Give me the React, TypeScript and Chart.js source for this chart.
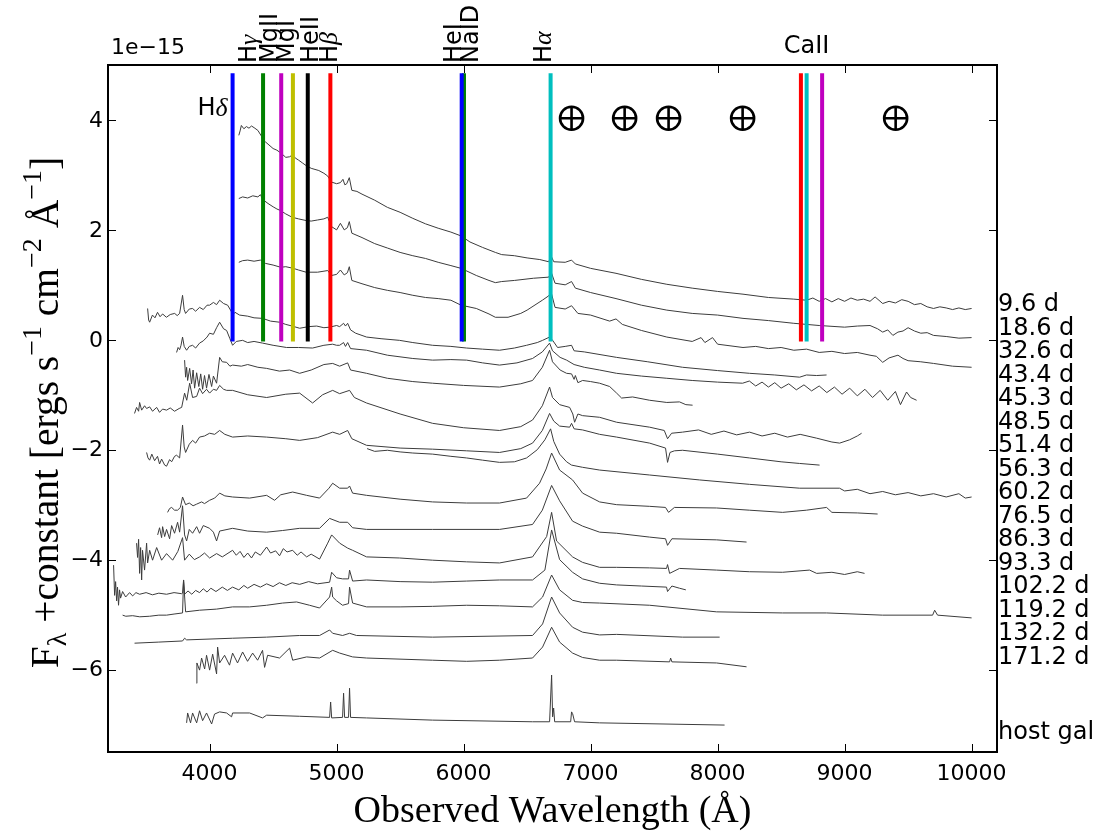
import React, { useEffect, useRef } from 'react';
import { Chart, registerables } from 'chart.js';
Chart.register(...registerables);

// ---------- axis / text data ----------
const xTicks = [4000, 5000, 6000, 7000, 8000, 9000, 10000];
const yTicks = [-6, -4, -2, 0, 2, 4];
const epochLabels = ['9.6 d', '18.6 d', '32.6 d', '43.4 d', '45.3 d', '48.5 d', '51.4 d', '56.3 d', '60.2 d', '76.5 d', '86.3 d', '93.3 d', '102.2 d', '119.2 d', '132.2 d', '171.2 d'];
const hostLabel = 'host gal';

// ---------- line identifications (observed wavelengths, Å) ----------
const lineNames = ['Hδ', 'Hγ', 'MgII', 'MgI', 'HeII', 'Hβ', 'HeI', 'NaID', 'Hα', 'CaII a', 'CaII b', 'CaII c'];
const lineWaves = [4181, 4421, 4564, 4656, 4773, 4951, 5985, 6003, 6685, 8656, 8701, 8823];
const lineColors = ['#0000ff', '#008000', '#bf00bf', '#bfbf00', '#000000', '#ff0000', '#0000ff', '#008000', '#00bfbf', '#ff0000', '#00bfbf', '#bf00bf'];
const lineTop = 4.85;
const lineBottom = -0.03;
const telluricWaves = [6850, 7268, 7614, 8197, 9402];
const telluricFlux = 4.03;

// ---------- spectra: [wavelength (Å), flux + offset (1e-15)] ----------
const s096: number[][] = [[4230,3.72],[4240,3.80],[4250,3.90],[4270,3.84],[4290,3.88],[4310,3.85],[4330,3.89],[4350,3.86],[4380,3.81],[4410,3.70],[4420,3.62],[4440,3.60],[4460,3.56],[4500,3.48],[4530,3.45],[4560,3.40],[4600,3.32],[4630,3.33],[4650,3.36],[4680,3.30],[4700,3.27],[4730,3.22],[4760,3.17],[4800,3.12],[4830,3.10],[4860,3.08],[4900,3.03],[4930,2.98],[4960,2.87],[5000,2.84],[5030,2.86],[5050,2.92],[5065,2.82],[5080,2.84],[5100,2.95],[5120,2.72],[5160,2.70],[5200,2.65],[5300,2.54],[5400,2.41],[5500,2.32],[5600,2.21],[5700,2.11],[5800,2.03],[5900,1.96],[5980,1.89],[6050,1.78],[6150,1.68],[6250,1.59],[6300,1.55],[6400,1.53],[6500,1.49],[6600,1.46],[6670,1.42],[6690,1.52],[6710,1.42],[6800,1.41],[6850,1.45],[6880,1.38],[7000,1.30],[7200,1.21],[7400,1.10],[7600,1.01],[7800,0.94],[8000,0.88],[8200,0.83],[8400,0.77],[8600,0.74],[8700,0.72],[8750,0.76],[8800,0.70],[8850,0.75],[8900,0.69],[8950,0.75],[9000,0.70],[9050,0.76],[9100,0.72],[9150,0.74],[9200,0.70],[9240,0.78],[9300,0.66],[9350,0.70],[9400,0.67],[9450,0.73],[9500,0.70],[9550,0.64],[9600,0.66],[9650,0.60],[9700,0.57],[9750,0.60],[9800,0.58],[9850,0.55],[9900,0.58],[9950,0.55],[10000,0.57]];
const s186: number[][] = [[4230,2.57],[4260,2.60],[4300,2.58],[4340,2.62],[4380,2.60],[4400,2.64],[4420,2.55],[4460,2.48],[4500,2.42],[4530,2.38],[4560,2.35],[4600,2.29],[4650,2.23],[4700,2.20],[4760,2.17],[4800,2.16],[4850,2.18],[4900,2.20],[4930,2.23],[4960,2.06],[5000,2.00],[5030,2.12],[5060,2.00],[5085,2.04],[5100,2.15],[5120,1.94],[5200,1.86],[5300,1.75],[5400,1.67],[5500,1.59],[5600,1.53],[5700,1.48],[5800,1.41],[5900,1.35],[5980,1.30],[6100,1.17],[6200,1.08],[6250,1.04],[6300,1.06],[6400,1.08],[6550,1.12],[6670,1.14],[6690,1.23],[6720,1.03],[6800,1.00],[6850,1.06],[6880,0.94],[7000,0.86],[7200,0.75],[7400,0.63],[7600,0.54],[7800,0.48],[8000,0.45],[8200,0.39],[8400,0.35],[8600,0.30],[8800,0.26],[9000,0.23],[9100,0.25],[9200,0.26],[9260,0.20],[9300,0.14],[9340,0.18],[9380,0.08],[9420,0.14],[9460,0.16],[9500,0.22],[9550,0.16],[9600,0.12],[9650,0.13],[9700,0.08],[9800,0.06],[9900,0.03],[10000,0.04]];
const s326: number[][] = [[4230,1.41],[4260,1.44],[4300,1.45],[4350,1.43],[4400,1.45],[4440,1.39],[4500,1.36],[4560,1.32],[4600,1.33],[4660,1.30],[4700,1.27],[4760,1.23],[4850,1.23],[4930,1.26],[4960,1.17],[5000,1.19],[5030,1.27],[5060,1.18],[5085,1.22],[5100,1.33],[5120,1.08],[5200,1.02],[5300,0.95],[5400,0.90],[5500,0.86],[5600,0.81],[5700,0.77],[5800,0.75],[5900,0.72],[5980,0.63],[6100,0.57],[6200,0.47],[6250,0.41],[6350,0.41],[6450,0.48],[6500,0.54],[6620,0.72],[6670,0.80],[6690,0.86],[6720,0.59],[6800,0.56],[6850,0.62],[6900,0.48],[7000,0.45],[7150,0.34],[7200,0.38],[7250,0.28],[7400,0.17],[7600,0.05],[7800,-0.03],[7870,0.04],[7900,-0.05],[7960,0.04],[8000,-0.08],[8200,-0.14],[8300,-0.12],[8400,-0.16],[8500,-0.14],[8600,-0.19],[8700,-0.17],[8800,-0.23],[8900,-0.21],[9000,-0.25],[9100,-0.23],[9200,-0.28],[9250,-0.30],[9300,-0.41],[9350,-0.33],[9420,-0.28],[9460,-0.34],[9500,-0.38],[9600,-0.40],[9700,-0.43],[9850,-0.48],[10000,-0.50]];
const s434: number[][] = [[3512,0.57],[3520,0.36],[3528,0.32],[3550,0.45],[3570,0.40],[3590,0.50],[3610,0.42],[3630,0.47],[3660,0.41],[3690,0.46],[3725,0.48],[3745,0.44],[3764,0.48],[3787,0.81],[3800,0.55],[3811,0.48],[3840,0.56],[3866,0.57],[3890,0.52],[3921,0.59],[3950,0.55],[3980,0.63],[4000,0.63],[4030,0.68],[4055,0.64],[4079,0.72],[4110,0.66],[4142,0.63],[4170,0.52],[4181,0.45],[4200,0.50],[4236,0.45],[4300,0.43],[4350,0.40],[4417,0.39],[4480,0.34],[4551,0.32],[4600,0.28],[4650,0.25],[4709,0.21],[4780,0.24],[4843,0.25],[4900,0.22],[4945,0.23],[5000,0.26],[5024,0.24],[5055,0.30],[5070,0.25],[5087,0.30],[5110,0.18],[5150,0.12],[5236,0.05],[5350,0.02],[5496,-0.01],[5600,-0.05],[5756,-0.10],[5900,-0.12],[6024,-0.15],[6150,-0.17],[6283,-0.19],[6400,-0.15],[6496,-0.10],[6580,-0.05],[6622,-0.01],[6677,0.05],[6701,-0.01],[6740,-0.14],[6800,-0.12],[6850,-0.10],[6870,-0.20],[6950,-0.22],[7205,-0.32],[7450,-0.40],[7724,-0.50],[8000,-0.56],[8252,-0.61],[8450,-0.64],[8646,-0.68],[8700,-0.64],[8780,-0.65],[8858,-0.64]];
const s453: number[][] = [[3740,-0.23],[3752,-0.14],[3764,-0.18],[3775,-0.10],[3787,0.05],[3800,-0.12],[3819,-0.19],[3840,-0.12],[3866,-0.10],[3890,-0.15],[3921,-0.06],[3950,-0.02],[3980,0.05],[4000,0.12],[4030,0.10],[4055,0.22],[4079,0.32],[4110,0.20],[4134,0.17],[4160,0.02],[4181,-0.10],[4210,-0.03],[4260,-0.01],[4300,-0.05],[4350,-0.03],[4417,-0.06],[4500,-0.10],[4606,-0.14],[4700,-0.14],[4811,-0.15],[4900,-0.10],[4969,-0.08],[5000,-0.10],[5024,-0.10],[5055,-0.05],[5070,-0.12],[5087,-0.05],[5110,-0.16],[5236,-0.19],[5400,-0.28],[5600,-0.34],[5756,-0.37],[5900,-0.36],[6024,-0.37],[6150,-0.42],[6283,-0.46],[6420,-0.42],[6543,-0.34],[6620,-0.22],[6677,-0.06],[6700,-0.20],[6760,-0.32],[6811,-0.37],[6870,-0.45],[6950,-0.50],[7071,-0.55],[7205,-0.61],[7400,-0.66],[7600,-0.70],[7800,-0.74],[8000,-0.77],[8197,-0.79],[8250,-0.75],[8300,-0.84],[8350,-0.77],[8400,-0.86],[8450,-0.78],[8500,-0.88],[8560,-0.80],[8620,-0.91],[8680,-0.82],[8740,-0.93],[8800,-0.84],[8860,-0.96],[8920,-0.86],[8980,-0.99],[9040,-0.88],[9100,-1.02],[9160,-0.90],[9220,-1.05],[9280,-0.92],[9340,-1.10],[9400,-0.94],[9440,-1.18],[9488,-0.95],[9520,-1.05],[9567,-1.10]];
const s485: number[][] = [[3803,-0.37],[3811,-0.68],[3819,-0.50],[3827,-0.74],[3843,-0.52],[3858,-0.80],[3870,-0.55],[3882,-0.88],[3898,-0.60],[3915,-0.85],[3930,-0.62],[3945,-0.90],[3960,-0.65],[3976,-0.88],[3995,-0.63],[4016,-0.85],[4030,-0.66],[4055,-0.79],[4079,-0.32],[4100,-0.40],[4134,-0.41],[4160,-0.48],[4181,-0.46],[4250,-0.48],[4300,-0.45],[4380,-0.50],[4449,-0.52],[4550,-0.57],[4630,-0.55],[4709,-0.61],[4800,-0.55],[4900,-0.45],[4969,-0.43],[5024,-0.48],[5087,-0.42],[5110,-0.55],[5236,-0.61],[5400,-0.70],[5600,-0.76],[5756,-0.79],[6000,-0.83],[6283,-0.86],[6450,-0.80],[6543,-0.74],[6620,-0.50],[6677,-0.19],[6700,-0.40],[6760,-0.55],[6811,-0.61],[6850,-0.62],[6870,-0.72],[6880,-0.65],[6900,-0.78],[6937,-0.74],[7000,-0.76],[7071,-0.79],[7150,-0.85],[7205,-0.97],[7244,-1.06],[7331,-1.04],[7465,-1.10],[7600,-1.14],[7700,-1.13],[7750,-1.18],[7803,-1.19]];
const s514: number[][] = [[3409,-1.34],[3425,-1.23],[3441,-1.30],[3449,-1.14],[3465,-1.28],[3488,-1.20],[3504,-1.25],[3528,-1.22],[3551,-1.30],[3583,-1.23],[3606,-1.32],[3630,-1.26],[3661,-1.28],[3690,-1.24],[3724,-1.30],[3760,-1.25],[3780,-1.23],[3803,-0.97],[3820,-1.10],[3843,-0.79],[3866,-1.05],[3898,-1.03],[3921,-0.88],[3945,-0.98],[3976,-0.90],[4000,-0.97],[4030,-0.90],[4055,-0.92],[4079,-0.83],[4110,-0.90],[4134,-0.92],[4181,-0.92],[4300,-1.00],[4449,-1.05],[4600,-0.99],[4709,-0.97],[4811,-1.15],[4890,-1.00],[4969,-0.92],[5024,-0.98],[5102,-0.92],[5140,-1.05],[5236,-1.15],[5500,-1.35],[5756,-1.52],[6000,-1.60],[6283,-1.65],[6450,-1.58],[6543,-1.46],[6620,-1.20],[6677,-0.86],[6700,-1.05],[6756,-1.18],[6835,-1.23],[6860,-1.35],[6874,-1.50],[6900,-1.35],[6937,-1.38],[7071,-1.41],[7205,-1.50],[7465,-1.59],[7580,-1.65],[7606,-1.80],[7638,-1.70],[7724,-1.68],[7850,-1.64],[7950,-1.72],[8050,-1.66],[8150,-1.73],[8252,-1.68],[8350,-1.75],[8450,-1.70],[8550,-1.77],[8650,-1.72],[8780,-1.79],[8900,-1.86],[8961,-1.88],[9039,-1.82],[9100,-1.75],[9134,-1.70]];
const s563: number[][] = [[3504,-2.05],[3515,-2.15],[3528,-2.19],[3545,-2.08],[3567,-2.20],[3590,-2.12],[3606,-2.26],[3622,-2.17],[3646,-2.28],[3661,-2.30],[3685,-2.18],[3701,-2.22],[3724,-2.12],[3740,-2.10],[3764,-2.15],[3787,-1.55],[3800,-1.95],[3811,-2.05],[3840,-1.90],[3866,-1.83],[3890,-1.88],[3921,-1.77],[3960,-1.75],[4000,-1.70],[4040,-1.72],[4079,-1.65],[4120,-1.72],[4181,-1.77],[4300,-1.75],[4449,-1.77],[4600,-1.80],[4709,-1.83],[4850,-1.78],[4969,-1.68],[5024,-1.72],[5087,-1.65],[5120,-1.80],[5236,-1.92],[5500,-1.97],[5756,-1.99],[6024,-2.02],[6283,-2.05],[6450,-1.98],[6543,-1.88],[6620,-1.65],[6677,-1.34],[6710,-1.48],[6756,-1.57],[6835,-1.59],[6850,-1.52],[6870,-1.62],[6937,-1.64],[7071,-1.72],[7205,-1.77],[7465,-1.88],[7590,-1.97],[7606,-2.23],[7625,-2.05],[7660,-2.02],[7724,-2.01],[8000,-2.08],[8252,-2.15],[8500,-2.22],[8646,-2.25],[8803,-2.28]];
const s602: number[][] = [[5240,-1.98],[5300,-2.03],[5400,-2.01],[5500,-2.04],[5600,-2.06],[5756,-2.08],[5900,-2.12],[6024,-2.15],[6150,-2.19],[6283,-2.23],[6400,-2.22],[6496,-2.15],[6580,-2.00],[6640,-1.82],[6685,-1.62],[6710,-1.85],[6756,-2.08],[6811,-2.22],[6850,-2.28],[6937,-2.32],[7071,-2.37],[7465,-2.46],[7858,-2.55],[8252,-2.63],[8646,-2.70],[8960,-2.70],[9000,-2.75],[9100,-2.72],[9200,-2.80],[9300,-2.76],[9400,-2.82],[9500,-2.78],[9600,-2.84],[9700,-2.80],[9800,-2.86],[9900,-2.80],[9950,-2.88],[10000,-2.86]];
const s765: number[][] = [[3669,-3.14],[3685,-3.07],[3701,-3.05],[3724,-3.10],[3748,-3.10],[3770,-3.05],[3787,-2.86],[3811,-3.00],[3840,-2.97],[3870,-3.02],[3898,-2.99],[3937,-2.95],[3960,-2.98],[4000,-2.92],[4040,-2.88],[4079,-2.79],[4120,-2.84],[4181,-2.86],[4315,-2.88],[4449,-2.83],[4512,-2.92],[4560,-2.82],[4654,-2.77],[4764,-2.83],[4866,-2.88],[4940,-2.70],[4969,-2.61],[5024,-2.70],[5087,-2.70],[5102,-2.66],[5126,-2.79],[5236,-2.83],[5500,-2.90],[5756,-2.95],[6024,-2.97],[6283,-2.97],[6496,-2.88],[6598,-2.61],[6650,-2.35],[6693,-2.06],[6756,-2.37],[6858,-2.55],[6937,-2.79],[7071,-2.95],[7205,-3.00],[7465,-3.03],[7590,-3.05],[7614,-3.14],[7660,-3.05],[7992,-3.06],[8250,-3.10],[8512,-3.14],[8700,-3.10],[8858,-3.05],[8900,-3.14],[9100,-3.15],[9260,-3.17]];
const s863: number[][] = [[3591,-3.55],[3606,-3.42],[3622,-3.60],[3630,-3.40],[3646,-3.58],[3661,-3.45],[3685,-3.62],[3701,-3.38],[3724,-3.52],[3748,-3.32],[3764,-3.50],[3787,-3.02],[3803,-3.55],[3819,-3.66],[3840,-3.45],[3866,-3.52],[3898,-3.40],[3921,-3.52],[3950,-3.38],[4000,-3.43],[4030,-3.50],[4055,-3.66],[4079,-3.48],[4181,-3.43],[4300,-3.48],[4449,-3.50],[4575,-3.47],[4709,-3.43],[4866,-3.43],[4945,-3.25],[5024,-3.32],[5087,-3.32],[5126,-3.42],[5236,-3.45],[5756,-3.45],[6283,-3.45],[6543,-3.36],[6620,-3.10],[6693,-2.65],[6756,-2.93],[6858,-3.30],[6937,-3.39],[7071,-3.50],[7205,-3.52],[7465,-3.59],[7590,-3.62],[7606,-3.74],[7640,-3.62],[7992,-3.64],[8228,-3.68]];
const s933: number[][] = [[3425,-3.70],[3433,-3.96],[3441,-3.63],[3449,-4.25],[3457,-3.78],[3465,-4.37],[3472,-3.83],[3488,-4.19],[3504,-3.70],[3512,-4.06],[3528,-3.83],[3551,-4.01],[3583,-3.78],[3622,-4.01],[3661,-3.89],[3709,-4.01],[3750,-3.85],[3787,-3.60],[3803,-4.01],[3840,-3.90],[3880,-4.00],[3921,-3.95],[3960,-3.88],[4000,-3.97],[4055,-3.89],[4100,-3.95],[4181,-3.83],[4210,-3.92],[4240,-3.85],[4270,-3.96],[4300,-3.88],[4330,-3.97],[4360,-3.86],[4400,-3.92],[4449,-3.77],[4480,-3.88],[4520,-3.84],[4551,-3.93],[4580,-3.80],[4610,-3.86],[4654,-3.83],[4690,-3.92],[4720,-3.86],[4764,-3.95],[4800,-3.90],[4866,-3.99],[4930,-3.70],[4961,-3.55],[5024,-3.70],[5087,-3.79],[5126,-3.83],[5236,-3.95],[5496,-3.97],[5756,-4.01],[6024,-4.04],[6283,-4.06],[6543,-3.95],[6654,-3.58],[6693,-3.14],[6732,-3.66],[6858,-3.95],[6937,-4.05],[7071,-4.14],[7205,-4.14],[7465,-4.15],[7598,-4.16],[7606,-4.09],[7622,-4.25],[7700,-4.16],[7992,-4.19],[8250,-4.22],[8512,-4.23],[8724,-4.19],[8780,-4.25],[8900,-4.23],[9000,-4.27],[9100,-4.22],[9157,-4.25]];
const s1022: number[][] = [[3244,-4.10],[3252,-4.65],[3260,-4.40],[3268,-4.75],[3275,-4.50],[3283,-4.83],[3291,-4.55],[3299,-4.70],[3315,-4.58],[3339,-4.68],[3370,-4.60],[3394,-4.66],[3420,-4.60],[3449,-4.63],[3500,-4.60],[3550,-4.64],[3600,-4.61],[3661,-4.63],[3720,-4.60],[3780,-4.62],[3787,-4.61],[3795,-4.37],[3803,-4.63],[3830,-4.57],[3860,-4.63],[3890,-4.56],[3921,-4.60],[3950,-4.53],[3980,-4.59],[4010,-4.52],[4050,-4.58],[4100,-4.50],[4140,-4.56],[4181,-4.50],[4230,-4.55],[4270,-4.47],[4300,-4.52],[4350,-4.45],[4400,-4.50],[4449,-4.44],[4500,-4.49],[4550,-4.42],[4600,-4.47],[4650,-4.42],[4709,-4.45],[4780,-4.40],[4850,-4.44],[4945,-4.41],[4961,-4.23],[5000,-4.33],[5047,-4.35],[5094,-4.35],[5102,-4.19],[5126,-4.39],[5236,-4.37],[5500,-4.40],[5756,-4.41],[6024,-4.39],[6283,-4.37],[6543,-4.37],[6640,-4.19],[6693,-3.46],[6756,-4.00],[6858,-4.23],[6937,-4.35],[7071,-4.43],[7205,-4.46],[7400,-4.48],[7598,-4.50],[7606,-4.58],[7640,-4.48],[7700,-4.52],[7750,-4.55]];
const s1192: number[][] = [[3315,-5.01],[3340,-5.03],[3394,-5.02],[3450,-5.04],[3528,-5.03],[3600,-5.01],[3661,-5.01],[3720,-4.99],[3787,-4.97],[3795,-4.37],[3811,-4.95],[3921,-4.92],[4055,-4.90],[4181,-4.86],[4315,-4.86],[4449,-4.83],[4575,-4.79],[4685,-4.77],[4787,-4.83],[4866,-4.88],[4945,-4.68],[4961,-4.50],[4969,-4.68],[5000,-4.75],[5047,-4.83],[5094,-4.80],[5102,-4.50],[5126,-4.79],[5236,-4.86],[5500,-4.86],[5756,-4.85],[6024,-4.83],[6283,-4.84],[6543,-4.86],[6622,-4.68],[6693,-4.28],[6756,-4.55],[6858,-4.74],[6937,-4.78],[7071,-4.79],[7465,-4.83],[7992,-4.95],[8512,-4.97],[8858,-4.97],[9299,-5.01],[9693,-5.01],[9709,-4.92],[9732,-5.01],[10000,-5.06]];
const s1322: number[][] = [[3409,-5.52],[3600,-5.50],[3787,-5.48],[3803,-5.43],[3819,-5.46],[4181,-5.43],[4449,-5.41],[4709,-5.38],[4866,-5.38],[4945,-5.28],[4969,-5.34],[5047,-5.38],[5102,-5.34],[5157,-5.38],[5756,-5.41],[6543,-5.38],[6622,-5.17],[6693,-4.68],[6756,-4.97],[6858,-5.23],[6937,-5.32],[7071,-5.37],[7205,-5.36],[7724,-5.41],[8016,-5.41]];
const s1712: number[][] = [[3898,-6.25],[3900,-5.88],[3921,-6.01],[3937,-5.79],[3961,-5.99],[3976,-5.74],[4000,-6.01],[4024,-5.72],[4055,-6.08],[4063,-5.59],[4079,-5.88],[4118,-5.74],[4157,-5.92],[4181,-5.70],[4220,-5.88],[4260,-5.68],[4299,-5.85],[4339,-5.70],[4378,-5.83],[4417,-5.65],[4433,-5.96],[4457,-5.74],[4551,-5.79],[4630,-5.61],[4654,-5.83],[4764,-5.77],[4866,-5.79],[4969,-5.65],[5024,-5.70],[5126,-5.77],[5236,-5.79],[5756,-5.83],[6024,-5.85],[6283,-5.83],[6543,-5.79],[6622,-5.59],[6693,-5.23],[6756,-5.50],[6858,-5.70],[6937,-5.78],[7071,-5.83],[7205,-5.83],[7622,-5.86],[7630,-5.79],[7640,-5.86],[7992,-5.88],[8228,-5.95]];
const sHost: number[][] = [[3819,-6.97],[3827,-6.79],[3850,-6.97],[3866,-6.79],[3898,-6.97],[3921,-6.75],[3945,-6.93],[3976,-6.79],[4016,-6.99],[4039,-6.81],[4079,-6.77],[4134,-6.79],[4173,-6.86],[4181,-6.79],[4315,-6.79],[4417,-6.88],[4449,-6.83],[4709,-6.85],[4945,-6.87],[4953,-6.59],[4961,-6.88],[5047,-6.87],[5055,-6.43],[5063,-6.87],[5094,-6.87],[5102,-6.34],[5110,-6.87],[5236,-6.88],[5756,-6.92],[6543,-6.95],[6677,-6.95],[6693,-6.10],[6701,-6.86],[6709,-6.70],[6717,-6.95],[6843,-6.95],[6850,-6.77],[6858,-6.80],[6874,-6.95],[7071,-6.97],[8055,-7.01]];

const spectra = [s096, s186, s326, s434, s453, s485, s514, s563, s602, s765, s863, s933, s1022, s1192, s1322, s1712, sHost];

const SANS = '"DejaVu Sans", sans-serif';
const SERIF = '"Liberation Serif", "DejaVu Serif", serif';

type Seg = { t: string; font: string; dy?: number };

function segWidth(ctx: CanvasRenderingContext2D, segs: Seg[]) {
  let w = 0;
  for (const s of segs) { ctx.font = s.font; w += ctx.measureText(s.t).width; }
  return w;
}
function drawSegs(ctx: CanvasRenderingContext2D, segs: Seg[], x: number, y: number) {
  let cx = x;
  for (const s of segs) {
    ctx.font = s.font;
    ctx.fillText(s.t, cx, y + (s.dy || 0));
    cx += ctx.measureText(s.t).width;
  }
}

const decor = {
  id: 'decor',
  afterDatasetsDraw(chart: any) {
    const ctx: CanvasRenderingContext2D = chart.ctx;
    const xs = chart.scales.x;
    const ys = chart.scales.y;
    const { left, right, top, bottom } = chart.chartArea;
    ctx.save();
    ctx.fillStyle = '#000';
    ctx.strokeStyle = '#000';

    // telluric symbols
    ctx.lineWidth = 2.6;
    for (const w of telluricWaves) {
      const cx = xs.getPixelForValue(w);
      const cy = ys.getPixelForValue(telluricFlux);
      const r = 11.5;
      ctx.beginPath(); ctx.arc(cx, cy, r, 0, Math.PI * 2); ctx.stroke();
      ctx.beginPath(); ctx.moveTo(cx - r, cy); ctx.lineTo(cx + r, cy); ctx.moveTo(cx, cy - r); ctx.lineTo(cx, cy + r); ctx.stroke();
    }

    // frame
    ctx.lineWidth = 2;
    ctx.strokeRect(left, top, right - left, bottom - top);

    // ticks
    ctx.lineWidth = 1;
    ctx.beginPath();
    for (const v of xTicks) {
      const px = Math.round(xs.getPixelForValue(v)) + 0.5;
      ctx.moveTo(px, bottom); ctx.lineTo(px, bottom - 8);
      ctx.moveTo(px, top); ctx.lineTo(px, top + 8);
    }
    for (const v of yTicks) {
      const py = Math.round(ys.getPixelForValue(v)) + 0.5;
      ctx.moveTo(left, py); ctx.lineTo(left + 8, py);
      ctx.moveTo(right, py); ctx.lineTo(right - 8, py);
    }
    ctx.stroke();

    // tick labels
    ctx.font = `22px ${SANS}`;
    ctx.textAlign = 'center';
    ctx.textBaseline = 'middle';
    for (const v of xTicks) ctx.fillText(String(v), xs.getPixelForValue(v), bottom + 22);
    ctx.textAlign = 'right';
    for (const v of yTicks) ctx.fillText(v < 0 ? '\u2212' + Math.abs(v) : String(v), left - 5, ys.getPixelForValue(v) + 1);

    // offset text
    ctx.textAlign = 'left';
    ctx.fillText('1e\u221215', left + 3, top - 17);

    // epoch labels
    ctx.font = `24px ${SANS}`;
    ctx.textBaseline = 'middle';
    epochLabels.forEach((t, i) => ctx.fillText(t, right + 1, top + 240 + i * 23.5));
    ctx.fillText(hostLabel, right + 1, top + 668);

    // line labels
    const greek = `italic 26px ${SERIF}`;
    const big = `24px ${SANS}`;
    const rotLabels: { segs: Seg[]; dx: number; idx: number }[] = [
      { segs: [{ t: 'H', font: big }, { t: 'γ', font: greek }], dx: -13, idx: 1 },
      { segs: [{ t: 'MgII', font: big }], dx: -10, idx: 2 },
      { segs: [{ t: 'MgI', font: big }], dx: -5, idx: 3 },
      { segs: [{ t: 'HeII', font: big }], dx: 4, idx: 4 },
      { segs: [{ t: 'H', font: big }, { t: 'β', font: greek }], dx: 0, idx: 5 },
      { segs: [{ t: 'HeI', font: big }], dx: -7, idx: 6 },
      { segs: [{ t: 'NaID', font: big }], dx: 8, idx: 7 },
      { segs: [{ t: 'H', font: big }, { t: 'α', font: greek }], dx: -6, idx: 8 },
    ];
    ctx.textAlign = 'left';
    ctx.textBaseline = 'middle';
    for (const l of rotLabels) {
      const cx = xs.getPixelForValue(lineWaves[l.idx]) + l.dx;
      ctx.save();
      ctx.translate(cx, top - 2);
      ctx.rotate(-Math.PI / 2);
      drawSegs(ctx, l.segs, 0, 0);
      ctx.restore();
    }
    // H delta inside, CaII above
    const hd: Seg[] = [{ t: 'H', font: big }, { t: 'δ', font: greek }];
    const hdw = segWidth(ctx, hd);
    ctx.textBaseline = 'middle';
    drawSegs(ctx, hd, xs.getPixelForValue(lineWaves[0]) - 5 - hdw, ys.getPixelForValue(4.2));
    ctx.font = big;
    ctx.textAlign = 'center';
    ctx.fillText('CaII', xs.getPixelForValue(lineWaves[10]), top - 18);

    // axis titles (size fitted to the reference widths)
    ctx.textAlign = 'left';
    ctx.textBaseline = 'alphabetic';
    const xTitle = 'Observed Wavelength (Å)';
    ctx.font = `100px ${SERIF}`;
    const xfs = (398 / ctx.measureText(xTitle).width) * 100;
    ctx.font = `${xfs}px ${SERIF}`;
    const xw = ctx.measureText(xTitle).width;
    ctx.fillText(xTitle, (left + right) / 2 - xw / 2, bottom + 70);

    const build = (fs: number): Seg[] => {
      const m = `${fs}px ${SERIF}`;
      const sm = `${Math.round(fs * 0.7)}px ${SERIF}`;
      const up = -fs * 0.42;
      return [
        { t: 'F', font: m }, { t: 'λ', font: sm, dy: fs * 0.2 }, { t: ' +constant [ergs s', font: m }, { t: '\u22121', font: sm, dy: up },
        { t: ' cm', font: m }, { t: '\u22122', font: sm, dy: up }, { t: ' Å', font: m }, { t: '\u22121', font: sm, dy: up }, { t: ']', font: m },
      ];
    };
    const w100 = segWidth(ctx, build(100));
    const yfs = (510 / w100) * 100;
    const yt = build(yfs);
    const yw = segWidth(ctx, yt);
    ctx.save();
    ctx.translate(58, (top + bottom) / 2 + 4);
    ctx.rotate(-Math.PI / 2);
    drawSegs(ctx, yt, -yw / 2, 0);
    ctx.restore();

    ctx.restore();
  },
};

export default function App() {
  const ref = useRef<HTMLCanvasElement | null>(null);
  useEffect(() => {
    document.body.style.margin = '0';
    const canvas = ref.current!;
    const datasets: any[] = [];
    lineWaves.forEach((w, i) => {
      datasets.push({
        label: lineNames[i],
        data: [{ x: w, y: lineTop }, { x: w, y: lineBottom }],
        borderColor: lineColors[i],
        borderWidth: 4,
        pointRadius: 0,
      });
    });
    spectra.forEach((s, i) => {
      datasets.push({
        label: i < epochLabels.length ? epochLabels[i] : hostLabel,
        data: s.map(([x, y]) => ({ x, y })),
        borderColor: '#3c3c3c',
        borderWidth: 1,
        pointRadius: 0,
        tension: 0,
      });
    });
    const chart = new Chart(canvas, {
      type: 'line',
      data: { datasets },
      options: {
        responsive: false,
        animation: false,
        devicePixelRatio: 1,
        parsing: false as any,
        layout: { padding: { left: 108, right: 109, top: 65, bottom: 85 } },
        plugins: { legend: { display: false }, tooltip: { enabled: false } },
        scales: {
          x: { type: 'linear', min: 3200, max: 10200, display: false },
          y: { type: 'linear', min: -7.5, max: 5, display: false },
        },
      },
      plugins: [decor],
    });
    return () => chart.destroy();
  }, []);
  return <canvas ref={ref} width={1106} height={837} style={{ display: 'block' }} />;
}
